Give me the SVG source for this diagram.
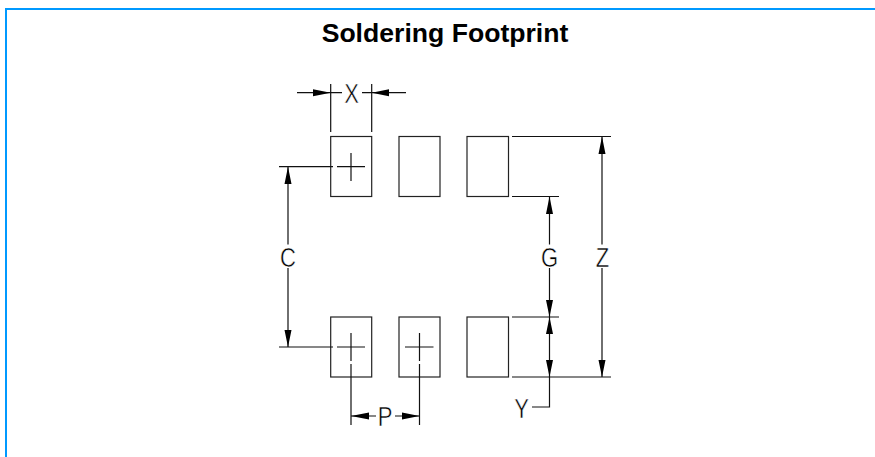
<svg xmlns="http://www.w3.org/2000/svg" width="875" height="457" viewBox="0 0 875 457">
<style>
.pad{fill:none;stroke:#222;stroke-width:1.200}
.ln{fill:none;stroke:#111;stroke-width:1.200}
.ah{fill:#000;stroke:none}
.t{font-family:"Liberation Sans",Arial,sans-serif;font-size:27.500px;fill:#000;stroke:#fff;stroke-width:.5px;text-anchor:middle}
.title{font-family:"Liberation Sans",Arial,sans-serif;font-size:26.600px;font-weight:bold;fill:#000;text-anchor:middle}
</style>
<rect width="875" height="457" fill="#fff"/>
<path d="M6 457V9H875" fill="none" stroke="#0099ff" stroke-width="2"/>
<text class="title" x="445" y="41.500">Soldering Footprint</text>
<g id="pad1"><rect class="pad" x="330.700" y="136.500" width="41" height="60"/><path class="ln" d="M337 166.700H365M351 153V181"/></g>
<g id="pad2"><rect class="pad" x="399" y="136.500" width="41" height="60"/></g>
<g id="pad3"><rect class="pad" x="467" y="136.500" width="41.500" height="60"/></g>
<g id="pad4"><rect class="pad" x="330.700" y="317" width="41" height="60"/><path class="ln" d="M337 347H365M351 333V361"/></g>
<g id="pad5"><rect class="pad" x="399" y="317" width="41" height="60"/><path class="ln" d="M405 347H433.500M419.500 333V361"/></g>
<g id="pad6"><rect class="pad" x="467" y="317" width="41.500" height="60"/></g>
<g id="connectors">
<path class="ln" d="M330.700 84V132M371.700 84V132M297 92.700H342M362 92.700H406"/>
<path class="ah" d="M330.700 92.700L313 89.200V96.200ZM371.700 92.700L389 89.200V96.200Z"/>
<path class="ln" d="M279 166.700H333M279 347H333M288 166.700V244.500M288 268V347"/>
<path class="ah" d="M288 166.700L284.500 184H291.500ZM288 347L284.500 330H291.500Z"/>
<path class="ln" d="M512 136.500H611M512 196.500H559M512 317H559M512 377H611M602 136.500V244.500M602 268V377M549.500 196.500V244.500M549.500 268V407H532"/>
<path class="ah" d="M602 136.500L598.500 154H605.500ZM602 377L598.500 360H605.500ZM549.500 196.500L546 214H553ZM549.500 317L546 300H553ZM549.500 317L546 334H553ZM549.500 377L546 360H553Z"/>
<path class="ln" d="M351 364V425M419.500 364V425M351 416H376M395 416H419.500"/>
<path class="ah" d="M351 416L369 412.500V419.500ZM419.500 416L402 412.500V419.500Z"/>
</g>
<text class="t" transform="translate(351.500 102.500) scale(.8 1)">X</text>
<text class="t" transform="translate(288 267) scale(.8 1)">C</text>
<text class="t" transform="translate(549.500 267) scale(.8 1)">G</text>
<text class="t" transform="translate(602.500 267) scale(.8 1)">Z</text>
<text class="t" transform="translate(385 426) scale(.8 1)">P</text>
<text class="t" transform="translate(521.500 417.500) scale(.8 1)">Y</text>
</svg>
